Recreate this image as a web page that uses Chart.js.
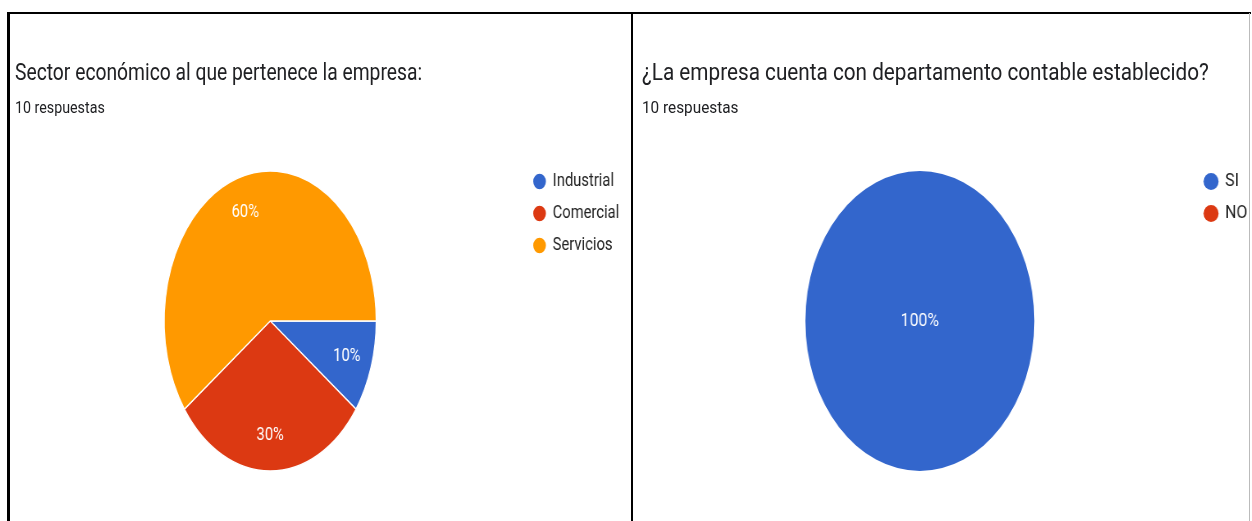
<!DOCTYPE html>
<html><head><meta charset="utf-8">
<script src="https://cdn.jsdelivr.net/npm/chart.js@4.4.1/dist/chart.umd.min.js"></script>
<style>
html,body{margin:0;padding:0;background:#fff;width:1252px;height:521px;overflow:hidden;position:relative;font-family:Roboto,sans-serif;}
.line{position:absolute;background:#000;z-index:5;}
.panel{position:absolute;top:0;height:521px;transform-origin:0 0;}
.title{position:absolute;white-space:nowrap;font-size:23.5px;line-height:24px;color:#202124;}
.sub{position:absolute;white-space:nowrap;font-size:17.4px;line-height:18px;color:#202124;}
.box{position:absolute;left:0;top:150px;height:340px;}
</style></head>
<body>
<div class="panel" id="p1" style="left:10px;width:757px;transform:scaleX(0.82)">
  <div class="title" id="t1" style="left:6.1px;top:60px"></div>
  <div class="sub" id="s1" style="left:6.1px;top:98px"></div>
  <div class="box" style="width:753px"><canvas id="c1"></canvas></div>
</div>
<div class="panel" id="p2" style="left:633px;width:707px;transform:scaleX(0.8815)">
  <div class="title" id="t2" style="left:10.2px;top:60px"></div>
  <div class="sub" id="s2" style="left:10.2px;top:98px"></div>
  <div class="box" style="width:707px"><canvas id="c2"></canvas></div>
</div>
<div class="line" style="left:7px;top:12px;width:1244px;height:2px"></div>
<div class="line" style="left:7px;top:12px;width:3px;height:509px"></div>
<div class="line" style="left:631px;top:12px;width:2px;height:509px"></div>
<div class="line" style="left:1249px;top:13px;width:1px;height:508px;background:#bbb"></div>
<script>
const sectorTitle = 'Sector económico al que pertenece la empresa:';
const sectorSubtitle = '10 respuestas';
const sectorLabels = ['Industrial', 'Comercial', 'Servicios'];
const sectorValues = [1, 3, 6];
const sectorColors = ['#3366CC', '#DC3912', '#FF9900'];

const deptTitle = '¿La empresa cuenta con departamento contable establecido?';
const deptSubtitle = '10 respuestas';
const deptLabels = ['SI', 'NO'];
const deptValues = [10, 0];
const deptColors = ['#3366CC', '#DC3912'];

document.getElementById('t1').textContent = sectorTitle;
document.getElementById('s1').textContent = sectorSubtitle;
document.getElementById('t2').textContent = deptTitle;
document.getElementById('s2').textContent = deptSubtitle;

const pieShape = {
  id: 'pieShape',
  beforeDatasetsDraw(chart, args, opts) {
    const a = chart.getDatasetMeta(0).data[0];
    const ctx = chart.ctx;
    ctx.save();
    ctx.translate(a.x, a.y);
    ctx.scale(opts.k, 1);
    ctx.translate(-a.x, -a.y);
  },
  afterDatasetsDraw(chart, args, opts) {
    const ctx = chart.ctx;
    ctx.restore();
    const meta = chart.getDatasetMeta(0);
    const ds = chart.data.datasets[0].data;
    const total = ds.reduce((s, v) => s + v, 0);
    ctx.save();
    ctx.font = '18px Roboto';
    ctx.fillStyle = '#ffffff';
    ctx.textAlign = 'center';
    ctx.textBaseline = 'middle';
    meta.data.forEach((arc, i) => {
      const v = ds[i];
      if (!v) return;
      const pct = Math.round(v / total * 100);
      let x = arc.x, y = arc.y;
      if (pct < 100) {
        const mid = (arc.startAngle + arc.endAngle) / 2;
        const r = arc.outerRadius * opts.f;
        x += Math.cos(mid) * r * opts.k;
        y += Math.sin(mid) * r;
      }
      ctx.fillText(pct + '%', x, y);
    });
    ctx.restore();
  }
};

function makePie(id, labels, values, colors, o) {
  return new Chart(document.getElementById(id), {
    type: 'pie',
    data: {
      labels: labels,
      datasets: [{ data: values, backgroundColor: colors, borderColor: '#ffffff', borderWidth: o.bw, hoverOffset: 0 }]
    },
    options: {
      responsive: true,
      maintainAspectRatio: false,
      animation: false,
      rotation: 90,
      radius: 150,
      layout: { padding: { left: o.pl, right: 0, top: 8.5, bottom: 6.5 } },
      plugins: {
        legend: {
          position: 'right',
          align: 'start',
          labels: {
            usePointStyle: true, pointStyle: 'circle',
            boxWidth: 14, boxHeight: 12, padding: 14,
            color: '#222222',
            font: { family: 'Roboto', size: 18 }
          }
        },
        tooltip: { enabled: false },
        pieShape: { k: o.k, f: 0.76 }
      }
    },
    plugins: [pieShape]
  });
}

makePie('c1', sectorLabels, sectorValues, sectorColors, { pl: 9.8, k: 0.862, bw: 1.5 });
makePie('c2', deptLabels, deptValues, deptColors, { pl: 16, k: 0.866, bw: 0 });
</script>
</body></html>
